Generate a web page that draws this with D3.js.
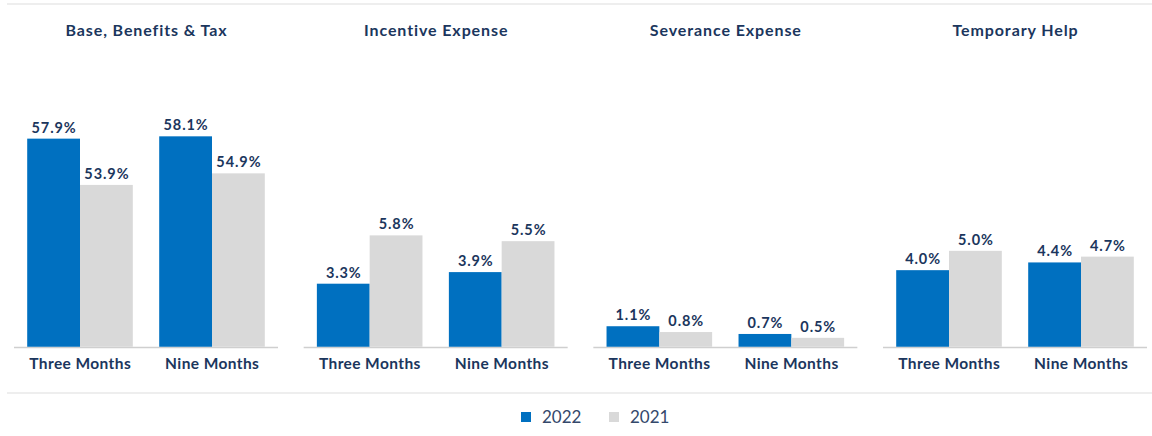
<!DOCTYPE html>
<html>
<head>
<meta charset="utf-8">
<script src="https://cdn.jsdelivr.net/npm/d3@7"></script>
<style>
  html, body { margin: 0; padding: 0; background: #fff; }
  svg { display: block; font-family: Lato, "Open Sans", sans-serif; }
</style>
</head>
<body>
<div class="canvas"></div>
<script>
// chart data
const panels = ["Base, Benefits & Tax", "Incentive Expense", "Severance Expense", "Temporary Help"];
const periods = ["Three Months", "Nine Months"];
const series = ["2022", "2021"];
const values2022 = [[57.9, 58.1], [3.3, 3.9], [1.1, 0.7], [4.0, 4.4]];
const values2021 = [[53.9, 54.9], [5.8, 5.5], [0.8, 0.5], [5.0, 4.7]];

const dims = { width: 1152, height: 436 };
const colors = { "2022": "#0070c0", "2021": "#d9d9d9" };
const textColor = "#1b365d";
const baseY = 347.5;
const topY = 115.5;

const svg = d3
  .select(".canvas")
  .append("svg")
  .attr("width", dims.width)
  .attr("height", dims.height);

// frame lines
svg.append("line")
  .attr("x1", 7).attr("x2", 1152).attr("y1", 4).attr("y2", 4)
  .attr("stroke", "#e8e8e8").attr("stroke-width", 1.5);
svg.append("line")
  .attr("x1", 7).attr("x2", 1152).attr("y1", 393).attr("y2", 393)
  .attr("stroke", "#e8e8e8").attr("stroke-width", 1.5);

// scales
const xPanel = d3.scaleBand().domain(panels).range([14, 1147]).paddingInner(0.0886).paddingOuter(0);
const xPeriod = d3.scaleBand().domain(periods).range([0, xPanel.bandwidth()]).paddingInner(0.2).paddingOuter(0.1);
const xSeries = d3.scaleBand().domain(series).range([0, xPeriod.bandwidth()]);

// base panel has its own truncated axis, the others start at zero
const yBase = d3.scaleLinear().domain([39.85, 59.9]).range([baseY, topY]);
const ySmall = d3.scaleLinear().domain([0, 12]).range([baseY, topY]);

const rows = panels.map((name, i) => ({
  name,
  y: i === 0 ? yBase : ySmall,
  groups: periods.map((period, j) => ({
    period,
    bars: [
      { key: "2022", value: values2022[i][j] },
      { key: "2021", value: values2021[i][j] },
    ],
  })),
}));

const panel = svg
  .selectAll("g.panel")
  .data(rows)
  .enter()
  .append("g")
  .attr("class", "panel")
  .attr("transform", (d) => `translate(${xPanel(d.name)}, 0)`);

// titles
panel.append("text")
  .attr("x", xPanel.bandwidth() / 2 + 0.5)
  .attr("y", 35.5)
  .attr("text-anchor", "middle")
  .attr("font-size", 16)
  .attr("font-weight", 700)
  .attr("letter-spacing", 0.9)
  .attr("fill", textColor)
  .text((d) => d.name);

// baseline
panel.append("line")
  .attr("x1", 0).attr("x2", xPanel.bandwidth())
  .attr("y1", baseY).attr("y2", baseY)
  .attr("stroke", "#cfcfcf").attr("stroke-width", 1.5);

const group = panel
  .selectAll("g.group")
  .data((d) => d.groups.map((g) => ({ ...g, y: d.y })))
  .enter()
  .append("g")
  .attr("class", "group")
  .attr("transform", (d) => `translate(${xPeriod(d.period)}, 0)`);

const bar = group
  .selectAll("g.bar")
  .data((d) => d.bars.map((b) => ({ ...b, y: d.y })))
  .enter()
  .append("g")
  .attr("class", "bar");

bar.append("rect")
  .attr("x", (d) => xSeries(d.key))
  .attr("width", xSeries.bandwidth())
  .attr("y", (d) => d.y(d.value))
  .attr("height", (d) => baseY - 0.75 - d.y(d.value))
  .attr("fill", (d) => colors[d.key]);

bar.append("text")
  .attr("x", (d) => xSeries(d.key) + xSeries.bandwidth() / 2 + 0.5)
  .attr("y", (d) => d.y(d.value) - 6)
  .attr("text-anchor", "middle")
  .attr("font-size", 14.5)
  .attr("font-weight", 700)
  .attr("letter-spacing", 0.9)
  .attr("fill", textColor)
  .text((d) => d.value.toFixed(1) + "%");

// category labels
group.append("text")
  .attr("x", xPeriod.bandwidth() / 2 + 0.2)
  .attr("y", 369)
  .attr("text-anchor", "middle")
  .attr("font-size", 15.5)
  .attr("font-weight", 700)
  .attr("letter-spacing", 0.4)
  .attr("fill", textColor)
  .text((d) => d.period);

// legend
const legendX = { "2022": 521, "2021": 609 };
const legend = svg
  .selectAll("g.legend")
  .data(series)
  .enter()
  .append("g")
  .attr("class", "legend")
  .attr("transform", (d) => `translate(${legendX[d]}, 412)`);

legend.append("rect")
  .attr("width", 10).attr("height", 10)
  .attr("fill", (d) => colors[d]);

legend.append("text")
  .attr("x", 21)
  .attr("y", 10.5)
  .attr("font-size", 17)
  .attr("fill", "#34486b")
  .text((d) => d);
</script>
</body>
</html>
